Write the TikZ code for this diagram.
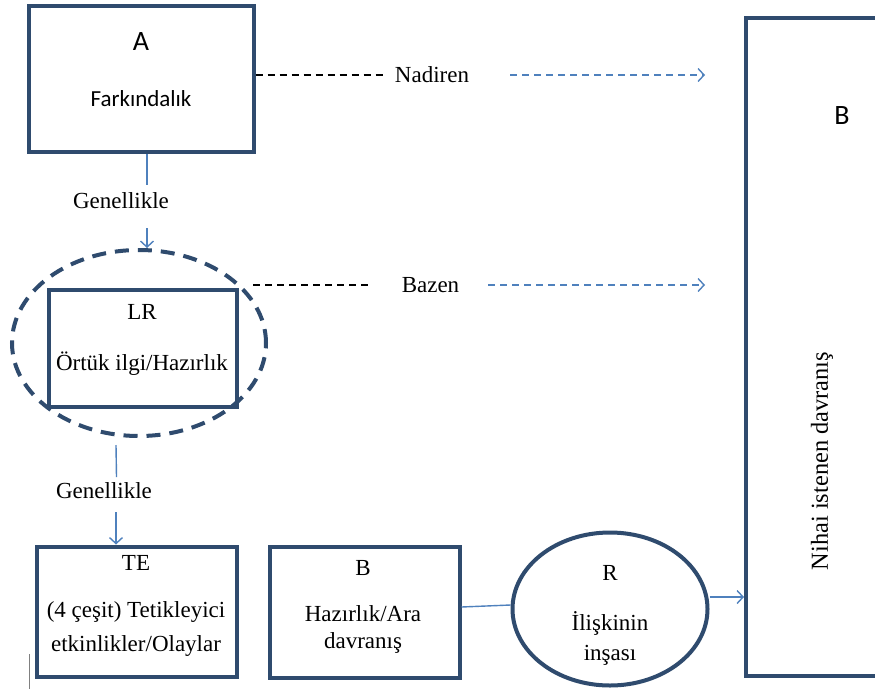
\documentclass[tikz,border=0pt]{standalone}
\usepackage{fontspec}
\setmainfont{Liberation Serif}
\newfontfamily\calfont{Carlito}
\usetikzlibrary{arrows.meta,shapes.geometric}
\definecolor{boxblue}{RGB}{47,75,110}
\definecolor{linkblue}{RGB}{79,129,189}
\begin{document}
\begin{tikzpicture}[x=1pt,y=-1pt,
  boxnode/.style={draw=boxblue,line width=4pt,rectangle,inner sep=0pt},
  txt/.style={font=\fontsize{23}{27}\selectfont,inner sep=0pt,anchor=center},
  caltxt/.style={font=\calfont\fontsize{23}{27}\selectfont,inner sep=0pt,anchor=center},
  bigtxt/.style={font=\calfont\fontsize{28}{32}\selectfont,inner sep=0pt,anchor=center},
  blackdash/.style={draw=black,line width=1.3pt,dash pattern=on 7pt off 5pt},
  bluedash/.style={draw=linkblue,line width=1.4pt,dash pattern=on 7pt off 5pt,
    -{Straight Barb[length=6pt,width=13pt,line width=1.4pt]}},
  blueline/.style={draw=linkblue,line width=1.4pt},
  bluearrow/.style={draw=linkblue,line width=1.4pt,
    -{Straight Barb[length=6pt,width=13pt,line width=1.4pt]}}
]
\useasboundingbox (0,0) rectangle (875,689);
\fill[white] (0,0) rectangle (875,689);

% boxes
\node[boxnode,minimum width=225pt,minimum height=146pt] (A) at (141,79) {};
\node[draw=boxblue,line width=4pt,dash pattern=on 14pt off 9pt,ellipse,
  minimum width=254pt,minimum height=186pt,inner sep=0pt] (E) at (139,343) {};
\node[boxnode,minimum width=188pt,minimum height=117pt] (LR) at (142.5,348) {};
\node[boxnode,minimum width=200pt,minimum height=130pt] (TE) at (136.5,611.5) {};
\node[boxnode,minimum width=190pt,minimum height=131pt] (Bs) at (364.5,612) {};
\node[draw=boxblue,line width=4pt,ellipse,minimum width=195pt,minimum height=153pt,
  inner sep=0pt] (R) at (610,609) {};
\node[boxnode,minimum width=144pt,minimum height=658pt] (BB) at (818,346.5) {};

% texts
\node[bigtxt] (tA) at (141,42) {A};
\node[caltxt] (tFark) at (141,99) {Farkındalık};
\node[txt] (tLR) at (142,312) {LR};
\node[txt] (tOrt) at (142,364) {Örtük ilgi/Hazırlık};
\node[txt] (tTE) at (136,563) {TE};
\node[txt] (tTE1) at (136,612) {(4 çeşit) Tetikleyici};
\node[txt] (tTE2) at (136,646) {etkinlikler/Olaylar};
\node[txt] (tB) at (363,568) {B};
\node[txt] (tB1) at (363,614) {Hazırlık/Ara};
\node[txt] (tB2) at (363,643) {davranış};
\node[txt] (tR) at (610,573) {R};
\node[txt] (tR1) at (610,623) {İlişkinin};
\node[txt] (tR2) at (610,655) {inşası};
\node[bigtxt] (tBB) at (842,116) {B};
\node[txt,font=\fontsize{24.4}{28}\selectfont,rotate=90] (tNihai) at (822,461) {Nihai istenen davranış};

% labels
\node[txt] (Nad) at (432,75) {Nadiren};
\node[txt] (Baz) at (430.5,285) {Bazen};
\node[txt] (Gen1) at (121,201) {Genellikle};
\node[txt] (Gen2) at (104,491) {Genellikle};

% coordinates
\coordinate (nadS) at (385,75);
\coordinate (nadA) at (510,75);
\coordinate (nadE) at (705,75);
\coordinate (bzS) at (253,285);
\coordinate (bzT) at (370,285);
\coordinate (bzA) at (488,285);
\coordinate (bzE) at (705,285);
\coordinate (g1a) at (147,185);
\coordinate (g1b) at (147,228);
\coordinate (g2s) at (116,445);
\coordinate (g2a) at (116.5,477);
\coordinate (g2b) at (116,512);

% connectors
\draw[blackdash] ([yshift=4pt]A.east) -- (nadS);
\draw[bluedash] (nadA) -- (nadE);
\draw[blackdash] (bzS) -- (bzT);
\draw[bluedash] (bzA) -- (bzE);
\draw[blueline] (A.south -| g1a) -- (g1a);
\draw[bluearrow] (g1b) -- (g1b |- E.north);
\draw[blueline] (g2s) -- (g2a);
\draw[bluearrow] (g2b) -- (g2b |- TE.north);
\draw[blueline] ([yshift=5pt]Bs.east) -- ([yshift=4pt]R.west);
\draw[bluearrow] ([yshift=12pt]R.east) -- ([yshift=12pt]R.east -| BB.west);

% small gray mark
\draw[gray,line width=1pt] (29,654) -- (29,689);
\end{tikzpicture}
\end{document}
